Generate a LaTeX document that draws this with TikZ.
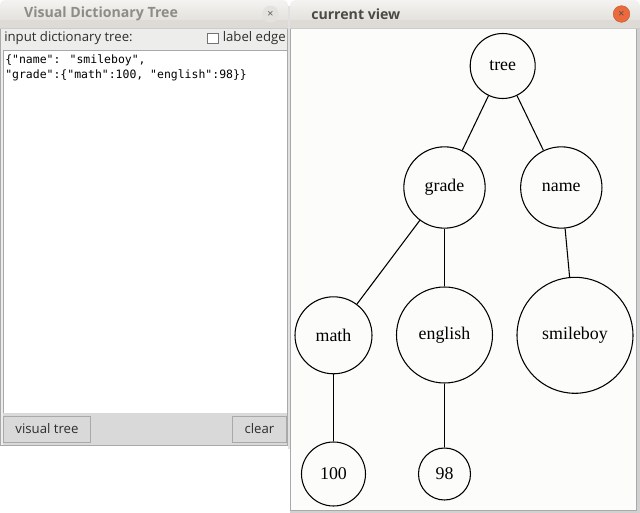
\documentclass[tikz,border=0pt]{standalone}
\usepackage{fontspec}
\setmainfont{Liberation Serif}
\newfontfamily\uifont{Open Sans}
\newfontfamily\uibold{Open Sans Bold}
\newfontfamily\monofont{DejaVu Sans Mono}
\definecolor{titletop}{HTML}{F4F3F1}
\definecolor{titlebot}{HTML}{DEDBD6}
\definecolor{winbg}{HTML}{EDEDEB}
\definecolor{barbg}{HTML}{D9D9D9}
\definecolor{frame}{HTML}{A9A9A9}
\definecolor{canvasbg}{HTML}{FCFCFA}
\definecolor{uitext}{HTML}{2E2E2E}
\definecolor{inactive}{HTML}{8E8C89}
\definecolor{activetitle}{HTML}{4C4A46}
\definecolor{closeorange}{HTML}{EA6A3E}
\definecolor{closegrey}{HTML}{E4E2DE}
\begin{document}
\begin{tikzpicture}[x=0.75pt,y=-0.75pt,
  treenode/.style={circle,draw=black,line width=0.8pt,inner sep=0pt,font=\fontsize{13.4}{15}\selectfont},
  edge/.style={draw=black,line width=0.8pt},
  uilabel/.style={inner sep=0pt,text=uitext,font=\uifont\fontsize{9.9}{11}\selectfont},
  btn/.style={rectangle,draw=frame,fill=barbg,line width=0.6pt,inner sep=0pt,text=uitext,font=\uifont\fontsize{9.9}{11}\selectfont},
  monotext/.style={inner sep=0pt,anchor=west,text=black,font=\monofont\fontsize{8.6}{10}\selectfont}]
\useasboundingbox (0,0) rectangle (640,513);
\fill[white] (0,0) rectangle (640,513);
% ---------- left window ----------
\fill[black!12] (288,6) rectangle (292,449);
\fill[winbg,rounded corners=4pt] (0,0) rectangle (288,446);
\shade[top color=titletop,bottom color=titlebot,rounded corners=4pt] (0,0) rectangle (288,28);
\fill[titlebot] (0,20) rectangle (288,28);
\draw[frame,line width=0.6pt] (0.5,28) -- (0.5,445.5) -- (287.5,445.5) -- (287.5,28);
\draw[black!20,line width=0.6pt] (0,28) -- (288,28);
\node[inner sep=0pt,text=inactive,font=\uibold\fontsize{10.6}{12}\selectfont] (ltitle) at (101,14) {Visual Dictionary Tree};
\node[circle,fill=closegrey,inner sep=0pt,minimum size=12.5pt] (lclose) at (270.5,14) {};
\node[inner sep=0pt,text=black!65,font=\uifont\fontsize{8}{9}\selectfont] at (lclose) {×};
\node[uilabel,anchor=west] (inputlbl) at (4,38.5) {input dictionary tree:};
\node[rectangle,draw=black!55,fill=white,line width=0.6pt,inner sep=0pt,minimum size=8pt] (chk) at (213,38.5) {};
\node[uilabel,anchor=west] (edgelbl) at (222.5,38.5) {label edge};
\draw[frame,fill=white,line width=0.6pt] (3,50) rectangle (287,413);
\node[monotext] (line1) at (5,60) {\{"name": "smileboy",};
\node[monotext] (line2) at (5,75) {"grade":\{"math":100, "english":98\}\}};
\fill[barbg] (3.3,413.3) rectangle (286.7,445);
\node[btn,minimum width=65pt,minimum height=19.5pt] (visbtn) at (47,429) {visual tree};
\node[btn,minimum width=41pt,minimum height=19.5pt] (clearbtn) at (259.5,429) {clear};
% ---------- right window ----------
\fill[black!18] (290,28) rectangle (640,513);
\shade[top color=titletop,bottom color=titlebot,rounded corners=4pt] (290,0) rectangle (640,28);
\fill[titlebot] (290,20) rectangle (640,28);
\fill[canvasbg] (291,29) rectangle (636.5,510.5);
\draw[frame,line width=0.6pt] (290.5,29) -- (290.5,510.5) -- (636.5,510.5) -- (636.5,29);
\draw[black!20,line width=0.6pt] (290,28.5) -- (640,28.5);
\node[inner sep=0pt,anchor=west,text=activetitle,font=\uibold\fontsize{10.6}{12}\selectfont] (rtitle) at (311,14) {current view};
\node[circle,fill=closeorange,draw=closeorange!80!black,line width=0.3pt,inner sep=0pt,minimum size=12.5pt] (rclose) at (621.5,14) {};
\node[inner sep=0pt,text=black!70,font=\uifont\fontsize{8}{9}\selectfont] at (rclose) {×};
% ---------- tree ----------
\node[treenode,minimum size=48.75pt] (tree) at (502.7,66) {tree};
\node[treenode,minimum size=61pt] (grade) at (444.5,187.5) {grade};
\node[treenode,minimum size=61pt] (name) at (561.3,187.5) {name};
\node[treenode,minimum size=57.75pt] (math) at (333.5,335.3) {math};
\node[treenode,minimum size=72pt] (english) at (444.5,335) {english};
\node[treenode,minimum size=87pt] (smileboy) at (575,335.3) {smileboy};
\node[treenode,minimum size=48pt] (n100) at (333.5,474) {100};
\node[treenode,minimum size=39pt] (n98) at (444.5,474) {98};
\draw[edge] (tree) -- (grade);
\draw[edge] (tree) -- (name);
\draw[edge] (grade) -- (math);
\draw[edge] (grade) -- (english);
\draw[edge] (name) -- (smileboy);
\draw[edge] (math) -- (n100);
\draw[edge] (english) -- (n98);
\end{tikzpicture}
\end{document}
